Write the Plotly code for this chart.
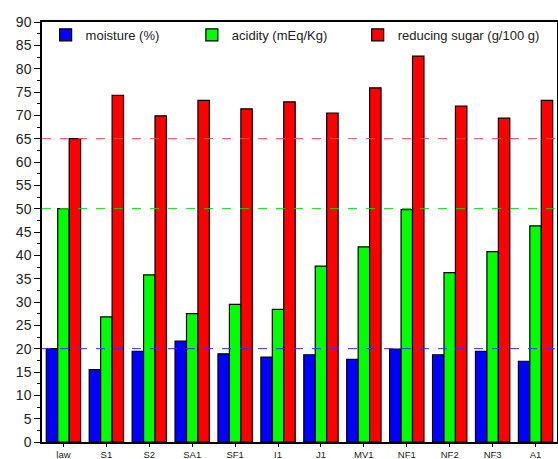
import plotly.graph_objects as go

categories = ["law", "S1", "S2", "SA1", "SF1", "I1", "J1", "MV1", "NF1", "NF2", "NF3", "A1"]
moisture = [20.0, 15.5, 19.4, 21.6, 18.9, 18.2, 18.7, 17.7, 19.9, 18.7, 19.4, 17.3]
acidity = [50.0, 26.8, 35.8, 27.5, 29.5, 28.4, 37.7, 41.8, 49.8, 36.3, 40.8, 46.3]
reducing_sugar = [65.0, 74.3, 69.9, 73.2, 71.4, 72.9, 70.5, 75.9, 82.7, 72.0, 69.4, 73.2]
series_names = ["moisture (%)", "acidity (mEq/Kg)", "reducing sugar (g/100 g)"]
limits = [20, 50, 65]
y_ticks = list(range(0, 95, 5))

colors = ["#0000ff", "#00ff00", "#ff0000"]
line_colors = ["#3030ff", "#00e000", "#e85050"]
legend_ids = ["legend", "legend2", "legend3"]
legend_x = [0.007, 0.291, 0.613]

fig = go.Figure()
for name, vals, c, lid in zip(series_names, [moisture, acidity, reducing_sugar], colors, legend_ids):
    fig.add_trace(go.Bar(x=categories, y=vals, name=name, legend=lid,
                         marker=dict(color=c, line=dict(color="black", width=1.2))))

for lim, lc in zip(limits, line_colors):
    fig.add_shape(type="line", xref="paper", yref="y", x0=0, x1=1, y0=lim, y1=lim,
                  line=dict(color=lc, width=1, dash="dash"), layer="above")

legend_style = dict(orientation="h", y=1.005, xanchor="left", yanchor="top",
                    font=dict(size=13, color="#222"), bgcolor="rgba(0,0,0,0)", itemwidth=30)
layout_legends = {lid: dict(x=lx, **legend_style) for lid, lx in zip(legend_ids, legend_x)}

fig.update_layout(
    width=558, height=459,
    margin=dict(l=42, r=1, t=22, b=17),
    paper_bgcolor="white", plot_bgcolor="white",
    barmode="group", bargap=0.2, bargroupgap=0,
    font=dict(family="Liberation Sans, Arial, sans-serif", color="#222"),
    showlegend=True,
    **layout_legends,
)
fig.update_xaxes(
    type="category", range=[-0.5, 11.5], showline=True, linecolor="black", linewidth=1.5,
    mirror=True, ticks="outside", ticklen=3, tickcolor="black", tickfont=dict(size=9.5),
    ticklabelstandoff=0, showgrid=False, automargin=False,
)
fig.update_yaxes(
    range=[0, 90], tickvals=y_ticks, showline=True, linecolor="black", linewidth=1.5,
    mirror=True, ticks="outside", ticklen=6, tickcolor="black", tickfont=dict(size=14),
    minor=dict(dtick=2.5, ticks="outside", ticklen=3, tickcolor="black", showgrid=False),
    showgrid=False, zeroline=False, automargin=False,
)

fig.write_html("out.html", config={"displayModeBar": False},
               post_script="document.body.style.margin='0';document.body.style.overflow='hidden';")
